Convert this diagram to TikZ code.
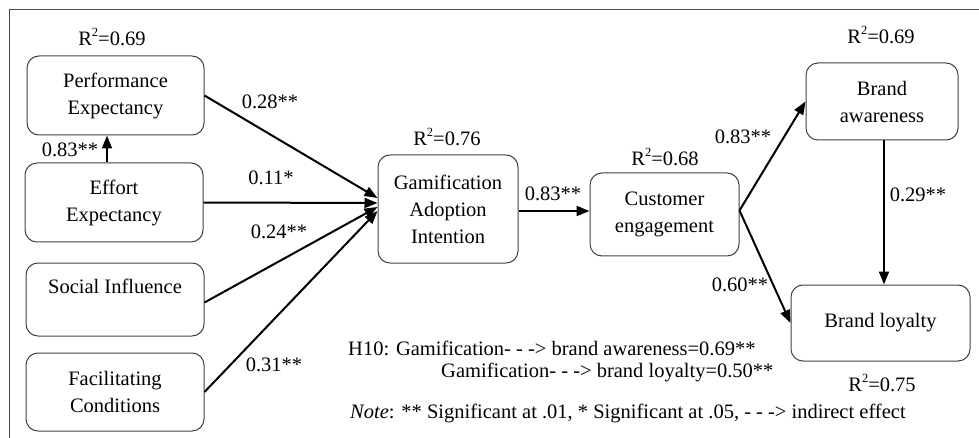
\documentclass[tikz,border=0pt]{standalone}
\usepackage{fontspec}
\setmainfont{Liberation Serif}
\usetikzlibrary{arrows.meta}
\newcommand{\rsq}{R\raisebox{0.42em}{\fontsize{12.5}{12.5}\selectfont 2}}
\begin{document}
\begin{tikzpicture}[x=1pt,y=-1pt,
 box/.style={draw=black!75, line width=1pt, rounded corners=12pt, align=center, inner sep=0pt, font=\fontsize{20.5}{27}\selectfont},
 lbl/.style={font=\fontsize{20.5}{24}\selectfont, inner sep=0pt},
 arr/.style={line width=2pt, -{Triangle[length=13pt,width=10pt]}},
 frame/.style={draw=black!70, line width=1pt}]
\useasboundingbox (0,0) rectangle (979,438);
\coordinate (ftr) at (979,10);
\coordinate (ftl) at (9,10);
\coordinate (fbl) at (9,438);
\draw[frame] (ftr) -- (ftl) -- (fbl);

\node[box, minimum width=177pt, minimum height=79pt] (pe) at (115.5,95.5) {Performance\\Expectancy};
\node[box, minimum width=178pt, minimum height=79pt] (ee) at (114,202.5) {Effort\\Expectancy};
\node[box, minimum width=178pt, minimum height=73pt] (si) at (115,299.5) {Social Influence\\\mbox{}};
\node[box, minimum width=178pt, minimum height=78pt] (fc) at (115,392) {Facilitating\\Conditions};
\node[box, minimum width=140pt, minimum height=108pt] (gai) at (448,209) {Gamification\\Adoption\\Intention};
\node[box, minimum width=149pt, minimum height=83pt] (ce) at (664.5,214.5) {Customer\\engagement};
\node[box, minimum width=152pt, minimum height=77pt] (ba) at (882,101.5) {Brand\\awareness};
\node[box, minimum width=179pt, minimum height=76pt] (bl) at (880.5,323) {Brand loyalty};

\draw[arr] ([xshift=-7pt]ee.north) -- ([xshift=-7pt]ee.north |- pe.south);
\draw[arr] (pe.east) -- ([yshift=11pt]gai.west);
\draw[arr] (ee.east) -- ([yshift=6pt]gai.west);
\draw[arr] ([yshift=-3pt]si.east) -- ([yshift=2pt]gai.west);
\draw[arr] (fc.east) -- ([yshift=-2pt]gai.west);
\draw[arr] ([yshift=-2pt]gai.east) -- ([yshift=-2pt]gai.east -| ce.west);
\draw[arr] ([yshift=4pt]ce.east) -- (ba.west);
\draw[arr] ([yshift=4pt]ce.east) -- (bl.west);
\draw[arr] ([xshift=2pt]ba.south) -- ([xshift=2pt]ba.south |- bl.north);

\node[lbl] (r1) at (112,37) {\rsq=0.69};
\node[lbl] (r2) at (447,137) {\rsq=0.76};
\node[lbl] (r3) at (665,157) {\rsq=0.68};
\node[lbl] (r4) at (881,35) {\rsq=0.69};
\node[lbl] (r5) at (882,383) {\rsq=0.75};

\node[lbl] (l1) at (70,150) {0.83**};
\node[lbl] (l2) at (270,102) {0.28**};
\node[lbl] (l3) at (271,178) {0.11*};
\node[lbl] (l4) at (279,232) {0.24**};
\node[lbl] (l5) at (274,365) {0.31**};
\node[lbl] (l6) at (553,194) {0.83**};
\node[lbl] (l7) at (743,137) {0.83**};
\node[lbl] (l8) at (740,285) {0.60**};
\node[lbl] (l9) at (918,195) {0.29**};

\node[lbl, anchor=west] (h1) at (348,348) {H10: Gamification- - -> brand awareness=0.69**};
\node[lbl, anchor=west] (h2) at (441,372) {Gamification- - -> brand loyalty=0.50**};
\node[lbl, anchor=west] (nt) at (350,413) {\textit{Note}: ** Significant at .01, * Significant at .05, - - -> indirect effect};
\end{tikzpicture}
\end{document}
